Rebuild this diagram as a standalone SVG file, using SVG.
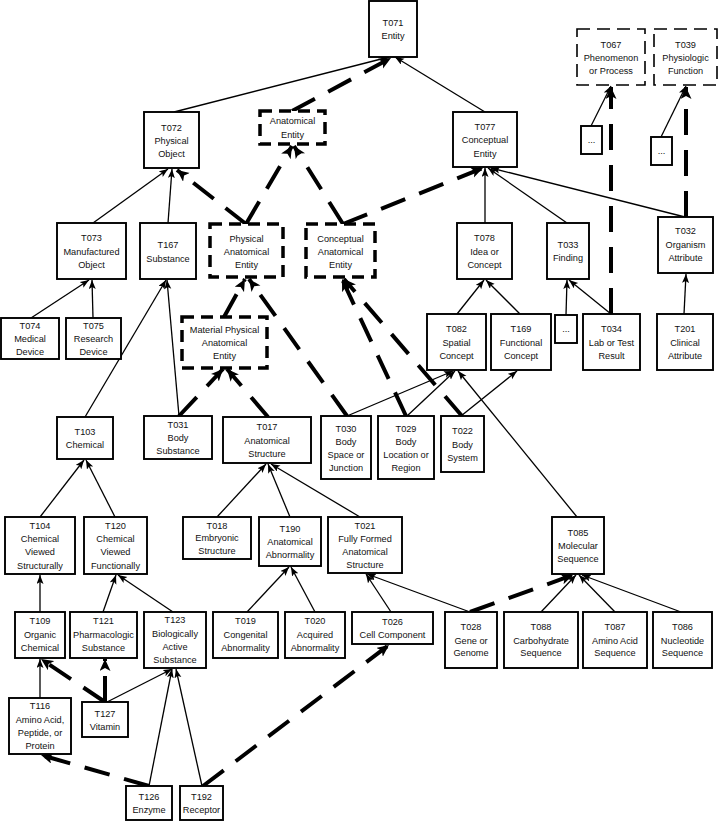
<svg xmlns="http://www.w3.org/2000/svg" width="718" height="821" viewBox="0 0 718 821">
<defs>
<style>
.b{fill:#fff;stroke:#000;stroke-width:1.9}
.bd{fill:#fff;stroke:#000;stroke-width:3.5;stroke-dasharray:12,7}
.bt{fill:#fff;stroke:#000;stroke-width:1.6;stroke-dasharray:13,7}
text{font-family:"Liberation Sans",Arial,sans-serif;font-size:9.2px;fill:#111;text-anchor:middle}
.s{stroke:#000;stroke-width:1.3;fill:none;marker-end:url(#as)}
.d{stroke:#000;stroke-width:4;fill:none;stroke-dasharray:26,15;marker-end:url(#ad)}
</style>
<marker id="as" markerUnits="userSpaceOnUse" markerWidth="9" markerHeight="8" refX="9" refY="3.5" orient="auto"><path d="M0,0 L9,3.5 L0,7 L2,3.5 z" fill="#000"/></marker>
<marker id="ad" markerUnits="userSpaceOnUse" markerWidth="13" markerHeight="12" refX="12" refY="5.5" orient="auto"><path d="M0,0 L12,5.5 L0,11 L3,5.5 z" fill="#000"/></marker>
</defs>
<rect width="718" height="821" fill="#fff"/>
<g id="connectors">
<line class="s" x1="174" y1="112" x2="389" y2="57"/>
<line class="d" x1="292" y1="111" x2="391" y2="58"/>
<line class="s" x1="485" y1="112" x2="395" y2="57"/>
<line class="s" x1="93" y1="223" x2="168" y2="169"/>
<line class="s" x1="168" y1="223" x2="172" y2="169"/>
<line class="d" x1="246" y1="224" x2="177" y2="170"/>
<line class="d" x1="246" y1="224" x2="292" y2="146"/>
<line class="d" x1="343" y1="224" x2="294" y2="146"/>
<line class="d" x1="343" y1="224" x2="483" y2="168"/>
<line class="s" x1="485" y1="223" x2="485" y2="168"/>
<line class="s" x1="567" y1="223" x2="488" y2="168"/>
<line class="s" x1="685" y1="217" x2="491" y2="168"/>
<line class="s" x1="591" y1="126" x2="611" y2="86"/>
<line class="s" x1="661" y1="137" x2="686" y2="86"/>
<line class="d" x1="686" y1="217" x2="686" y2="87"/>
<line class="d" x1="611" y1="314" x2="611" y2="87"/>
<line class="s" x1="684" y1="314" x2="686" y2="274"/>
<line class="s" x1="457" y1="314" x2="484" y2="280"/>
<line class="s" x1="520" y1="314" x2="486" y2="280"/>
<line class="s" x1="566" y1="315" x2="567" y2="280"/>
<line class="s" x1="611" y1="314" x2="569" y2="280"/>
<line class="s" x1="31" y1="318" x2="89" y2="280"/>
<line class="s" x1="93" y1="318" x2="92" y2="280"/>
<line class="s" x1="85" y1="417" x2="166" y2="280"/>
<line class="s" x1="179" y1="416" x2="167" y2="280"/>
<line class="d" x1="224" y1="317" x2="245" y2="279"/>
<line class="d" x1="347" y1="416" x2="249" y2="279"/>
<line class="d" x1="179" y1="416" x2="223" y2="369"/>
<line class="d" x1="268" y1="417" x2="227" y2="369"/>
<line class="d" x1="406" y1="416" x2="342" y2="279"/>
<line class="d" x1="462" y1="416" x2="344" y2="279"/>
<line class="s" x1="347" y1="416" x2="453" y2="371"/>
<line class="s" x1="407" y1="416" x2="455" y2="371"/>
<line class="s" x1="577" y1="517" x2="458" y2="371"/>
<line class="s" x1="461" y1="416" x2="517" y2="371"/>
<line class="s" x1="40" y1="517" x2="84" y2="460"/>
<line class="s" x1="115" y1="517" x2="86" y2="460"/>
<line class="s" x1="217" y1="517" x2="266" y2="464"/>
<line class="s" x1="290" y1="517" x2="268" y2="464"/>
<line class="s" x1="360" y1="517" x2="271" y2="464"/>
<line class="s" x1="40" y1="612" x2="40" y2="575"/>
<line class="s" x1="103" y1="612" x2="116" y2="575"/>
<line class="s" x1="173" y1="612" x2="118" y2="575"/>
<line class="s" x1="247" y1="612" x2="289" y2="567"/>
<line class="s" x1="315" y1="612" x2="291" y2="567"/>
<line class="s" x1="391" y1="612" x2="366" y2="574"/>
<line class="s" x1="470" y1="612" x2="367" y2="574"/>
<line class="d" x1="470" y1="612" x2="573" y2="575"/>
<line class="s" x1="541" y1="612" x2="576" y2="575"/>
<line class="s" x1="615" y1="612" x2="579" y2="575"/>
<line class="s" x1="681" y1="612" x2="582" y2="575"/>
<line class="s" x1="40" y1="698" x2="40" y2="659"/>
<line class="d" x1="105" y1="702" x2="41" y2="659"/>
<line class="d" x1="105" y1="702" x2="105" y2="659"/>
<line class="s" x1="107" y1="702" x2="172" y2="669"/>
<line class="s" x1="149" y1="786" x2="172" y2="669"/>
<line class="s" x1="202" y1="786" x2="176" y2="669"/>
<line class="d" x1="149" y1="786" x2="41" y2="755"/>
<line class="d" x1="203" y1="786" x2="389" y2="645"/>
</g>
<g id="T071"><rect class="b" x="369" y="1" width="48" height="56"/><text x="393" y="26">T071</text><text x="393" y="39">Entity</text></g>
<g id="T072"><rect class="b" x="144" y="112" width="55" height="56"/><text x="171.5" y="130.5">T072</text><text x="171.5" y="143.5">Physical</text><text x="171.5" y="156.7">Object</text></g>
<g id="AE"><rect class="bd" x="260" y="111" width="65" height="33"/><text x="292.5" y="124">Anatomical</text><text x="292.5" y="137.5">Entity</text></g>
<g id="T077"><rect class="b" x="453" y="112" width="64" height="55"/><text x="485" y="130">T077</text><text x="485" y="143">Conceptual</text><text x="485" y="156.5">Entity</text></g>
<g id="T067"><rect class="bt" x="577" y="29" width="68" height="56"/><text x="611" y="48">T067</text><text x="611" y="61">Phenomenon</text><text x="611" y="74">or Process</text></g>
<g id="T039"><rect class="bt" x="654" y="29" width="63" height="56"/><text x="685.5" y="48">T039</text><text x="685.5" y="61">Physiologic</text><text x="685.5" y="74">Function</text></g>
<g id="D1"><rect class="b" x="581" y="126" width="21" height="28"/><text x="591.5" y="143">...</text></g>
<g id="D2"><rect class="b" x="651" y="137" width="21" height="28"/><text x="661.5" y="154">...</text></g>
<g id="T073"><rect class="b" x="57" y="223" width="69" height="56"/><text x="91.5" y="241.3">T073</text><text x="91.5" y="254.5">Manufactured</text><text x="91.5" y="267.7">Object</text></g>
<g id="T167"><rect class="b" x="140" y="223" width="56" height="56"/><text x="168" y="248">T167</text><text x="168" y="262">Substance</text></g>
<g id="PAE"><rect class="bd" x="210" y="224" width="73" height="53"/><text x="246.5" y="241.6">Physical</text><text x="246.5" y="254.8">Anatomical</text><text x="246.5" y="268">Entity</text></g>
<g id="CAE"><rect class="bd" x="306" y="224" width="69" height="53"/><text x="340.5" y="241.6">Conceptual</text><text x="340.5" y="254.8">Anatomical</text><text x="340.5" y="268">Entity</text></g>
<g id="T078"><rect class="b" x="457" y="223" width="55" height="56"/><text x="484.5" y="241.3">T078</text><text x="484.5" y="254.5">Idea or</text><text x="484.5" y="267.7">Concept</text></g>
<g id="T033"><rect class="b" x="547" y="223" width="42" height="56"/><text x="568" y="248">T033</text><text x="568" y="261">Finding</text></g>
<g id="T032"><rect class="b" x="658" y="217" width="55" height="56"/><text x="685.5" y="234.3">T032</text><text x="685.5" y="248">Organism</text><text x="685.5" y="261">Attribute</text></g>
<g id="T074"><rect class="b" x="1" y="318" width="58" height="41"/><text x="30" y="328.8">T074</text><text x="30" y="341.8">Medical</text><text x="30" y="355">Device</text></g>
<g id="T075"><rect class="b" x="66" y="318" width="55" height="41"/><text x="93.5" y="328.8">T075</text><text x="93.5" y="341.8">Research</text><text x="93.5" y="355">Device</text></g>
<g id="MPAE"><rect class="bd" x="182" y="317" width="85" height="51"/><text x="224.5" y="333.3">Material Physical</text><text x="224.5" y="346">Anatomical</text><text x="224.5" y="359.3">Entity</text></g>
<g id="T082"><rect class="b" x="427" y="314" width="59" height="56"/><text x="456.5" y="332.3">T082</text><text x="456.5" y="345.5">Spatial</text><text x="456.5" y="358.7">Concept</text></g>
<g id="T169"><rect class="b" x="491" y="314" width="60" height="56"/><text x="521" y="332.3">T169</text><text x="521" y="345.5">Functional</text><text x="521" y="358.7">Concept</text></g>
<g id="D3"><rect class="b" x="555" y="315" width="22" height="28"/><text x="566" y="332">...</text></g>
<g id="T034"><rect class="b" x="583" y="314" width="57" height="56"/><text x="611.5" y="332.3">T034</text><text x="611.5" y="345.5">Lab or Test</text><text x="611.5" y="358.7">Result</text></g>
<g id="T201"><rect class="b" x="657" y="314" width="56" height="56"/><text x="685" y="332.3">T201</text><text x="685" y="345.5">Clinical</text><text x="685" y="358.7">Attribute</text></g>
<g id="T103"><rect class="b" x="57" y="417" width="56" height="42"/><text x="85" y="434.7">T103</text><text x="85" y="448">Chemical</text></g>
<g id="T031"><rect class="b" x="144" y="416" width="68" height="43"/><text x="178" y="427.5">T031</text><text x="178" y="441">Body</text><text x="178" y="454">Substance</text></g>
<g id="T017"><rect class="b" x="223" y="417" width="88" height="46"/><text x="267" y="430">T017</text><text x="267" y="444">Anatomical</text><text x="267" y="456.5">Structure</text></g>
<g id="T030"><rect class="b" x="321" y="416" width="50" height="63"/><text x="346" y="431.5">T030</text><text x="346" y="444.7">Body</text><text x="346" y="457.9">Space or</text><text x="346" y="471.1">Junction</text></g>
<g id="T029"><rect class="b" x="378" y="416" width="56" height="63"/><text x="406" y="431.5">T029</text><text x="406" y="444.7">Body</text><text x="406" y="457.9">Location or</text><text x="406" y="471.1">Region</text></g>
<g id="T022"><rect class="b" x="441" y="416" width="43" height="56"/><text x="462.5" y="434.3">T022</text><text x="462.5" y="447.5">Body</text><text x="462.5" y="460.7">System</text></g>
<g id="T104"><rect class="b" x="5" y="517" width="70" height="57"/><text x="40" y="528.5">T104</text><text x="40" y="542">Chemical</text><text x="40" y="555">Viewed</text><text x="40" y="568.5">Structurally</text></g>
<g id="T120"><rect class="b" x="84" y="517" width="63" height="57"/><text x="115.5" y="528.5">T120</text><text x="115.5" y="542">Chemical</text><text x="115.5" y="555">Viewed</text><text x="115.5" y="568.5">Functionally</text></g>
<g id="T018"><rect class="b" x="183" y="517" width="68" height="42"/><text x="217" y="528.8">T018</text><text x="217" y="541">Embryonic</text><text x="217" y="554">Structure</text></g>
<g id="T190"><rect class="b" x="259" y="517" width="62" height="49"/><text x="290" y="531.5">T190</text><text x="290" y="545">Anatomical</text><text x="290" y="558">Abnormality</text></g>
<g id="T021"><rect class="b" x="328" y="517" width="74" height="56"/><text x="365" y="528.7">T021</text><text x="365" y="541.9">Fully Formed</text><text x="365" y="555.1">Anatomical</text><text x="365" y="568.3">Structure</text></g>
<g id="T085"><rect class="b" x="552" y="517" width="52" height="57"/><text x="578" y="535.8">T085</text><text x="578" y="549">Molecular</text><text x="578" y="562">Sequence</text></g>
<g id="T109"><rect class="b" x="15" y="612" width="50" height="46"/><text x="40" y="624.3">T109</text><text x="40" y="638">Organic</text><text x="40" y="651">Chemical</text></g>
<g id="T121"><rect class="b" x="70" y="612" width="67" height="46"/><text x="103.5" y="624.3">T121</text><text x="103.5" y="638">Pharmacologic</text><text x="103.5" y="651">Substance</text></g>
<g id="T123"><rect class="b" x="144" y="612" width="62" height="56"/><text x="175" y="623.3">T123</text><text x="175" y="637.3">Biologically</text><text x="175" y="650">Active</text><text x="175" y="662.6">Substance</text></g>
<g id="T019"><rect class="b" x="213" y="612" width="65" height="46"/><text x="245.5" y="624.3">T019</text><text x="245.5" y="638">Congenital</text><text x="245.5" y="651">Abnormality</text></g>
<g id="T020"><rect class="b" x="285" y="612" width="60" height="46"/><text x="315" y="624.3">T020</text><text x="315" y="638">Acquired</text><text x="315" y="651">Abnormality</text></g>
<g id="T026"><rect class="b" x="352" y="612" width="81" height="32"/><text x="392.5" y="624.5">T026</text><text x="392.5" y="637.5">Cell Component</text></g>
<g id="T028"><rect class="b" x="445" y="612" width="52" height="56"/><text x="471" y="629.8">T028</text><text x="471" y="643.5">Gene or</text><text x="471" y="656">Genome</text></g>
<g id="T088"><rect class="b" x="504" y="612" width="74" height="56"/><text x="541" y="629.8">T088</text><text x="541" y="643.5">Carbohydrate</text><text x="541" y="656">Sequence</text></g>
<g id="T087"><rect class="b" x="583" y="612" width="64" height="56"/><text x="615" y="629.8">T087</text><text x="615" y="643.5">Amino Acid</text><text x="615" y="656">Sequence</text></g>
<g id="T086"><rect class="b" x="653" y="612" width="59" height="56"/><text x="682.5" y="629.8">T086</text><text x="682.5" y="643.5">Nucleotide</text><text x="682.5" y="656">Sequence</text></g>
<g id="T116"><rect class="b" x="9" y="698" width="62" height="56"/><text x="40" y="709">T116</text><text x="40" y="723.3">Amino Acid,</text><text x="40" y="736">Peptide, or</text><text x="40" y="749.3">Protein</text></g>
<g id="T127"><rect class="b" x="82" y="702" width="46" height="35"/><text x="105" y="716.5">T127</text><text x="105" y="729.5">Vitamin</text></g>
<g id="T126"><rect class="b" x="126" y="786" width="46" height="34"/><text x="149" y="799.7">T126</text><text x="149" y="812.5">Enzyme</text></g>
<g id="T192"><rect class="b" x="180" y="786" width="43" height="34"/><text x="201.5" y="799.7">T192</text><text x="201.5" y="812.5">Receptor</text></g>
</svg>
